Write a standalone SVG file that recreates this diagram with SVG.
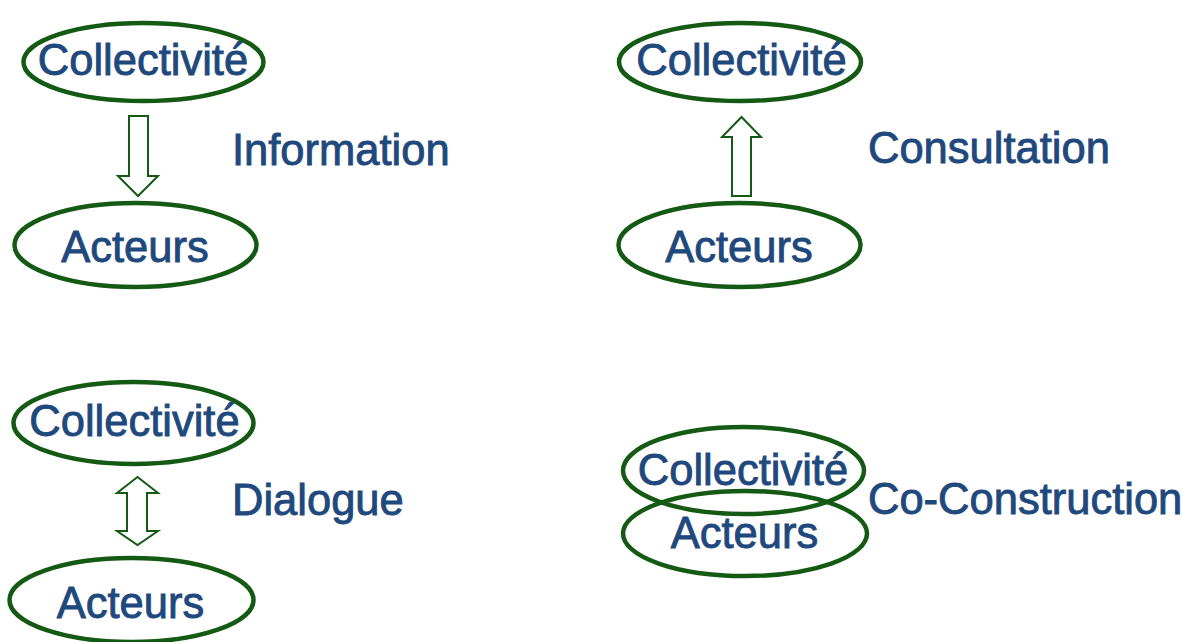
<svg xmlns="http://www.w3.org/2000/svg" width="1188" height="642" viewBox="0 0 1188 642">
<style>
.node ellipse{fill:none;stroke:#145a14;stroke-width:4.5}
.t{font-family:"Liberation Sans",Arial,sans-serif;font-size:43.5px;fill:#1f497d;stroke:#1f497d;stroke-width:0.9}
.m{text-anchor:middle}
.arrow{fill:#ffffff;stroke:#145a14;stroke-width:2;stroke-linejoin:miter}
</style>
<rect width="1188" height="642" fill="#ffffff"/>
<g id="q1-collectivite" class="node"><ellipse cx="143.5" cy="62" rx="120" ry="39"/><text class="t m" x="143" y="75">Collectivité</text></g>
<g id="q1-acteurs" class="node"><ellipse cx="135.5" cy="245" rx="121" ry="42"/><text class="t m" x="135" y="262">Acteurs</text></g>
<g id="q2-collectivite" class="node"><ellipse cx="740" cy="62" rx="121" ry="39"/><text class="t m" x="741.5" y="75">Collectivité</text></g>
<g id="q2-acteurs" class="node"><ellipse cx="739.5" cy="245" rx="121" ry="42"/><text class="t m" x="739" y="262">Acteurs</text></g>
<g id="q3-collectivite" class="node"><ellipse cx="133.5" cy="423" rx="120" ry="41"/><text class="t m" x="134.5" y="436">Collectivité</text></g>
<g id="q3-acteurs" class="node"><ellipse cx="131.5" cy="600" rx="122" ry="42"/><text class="t m" x="130.5" y="618">Acteurs</text></g>
<g id="q4-collectivite" class="node"><ellipse cx="743.5" cy="470.5" rx="120.5" ry="43.5"/><text class="t m" x="743" y="485">Collectivité</text></g>
<g id="q4-acteurs" class="node"><ellipse cx="745" cy="533.5" rx="122" ry="42.5"/><text class="t m" x="744.5" y="548">Acteurs</text></g>
<g id="labels">
<text class="t" x="232" y="165">Information</text>
<text class="t" x="868" y="163">Consultation</text>
<text class="t" x="232" y="515">Dialogue</text>
<text class="t" x="868" y="514">Co-Construction</text>
</g>
<g id="connectors">
<path class="arrow" d="M129,116 H148 V176 H158 L138,196 L118,176 H129 Z"/>
<path class="arrow" d="M741.5,117 L761,137 H751 V196 H732 V137 H722 Z"/>
<path class="arrow" d="M137.5,477 L158,493 H147 V531 H158 L137.5,545 L117,531 H127 V493 H117 Z"/>
</g>
</svg>
